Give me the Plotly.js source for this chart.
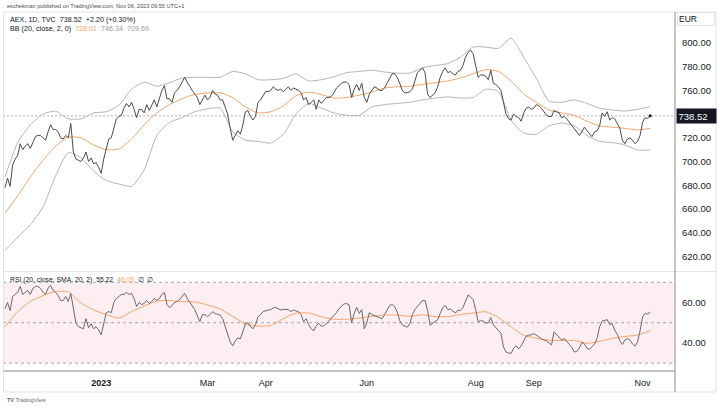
<!DOCTYPE html>
<html><head><meta charset="utf-8">
<script src="https://cdn.plot.ly/plotly-3.0.1.min.js"></script>
<style>html,body{margin:0;padding:0;background:#fff}#chart{width:720px;height:409px}</style>
</head><body><div id="chart"></div>
<script>
// ---- data (AEX daily) ----
const startDate = '2022-11-08';
const holidays = ['2022-12-26','2023-04-07','2023-04-10','2023-05-01'];

const close = [
678,686,679,697,702,705,715,710,713,715,
711,716,721,722,722,720,718,725,731,727,
727,725,720,719,722,720,732,708,702,701,
700,703,708,700,703,698,699,695,690,702,
712,719,720,729,736,738,739,745,749,746,
750,744,737,744,744,741,748,743,747,752,
746,753,760,764,753,753,750,758,760,763,
767,771,767,763,760,757,754,748,752,756,
752,754,760,757,756,752,752,746,740,728,
718,722,726,723,731,742,743,738,735,738,
750,752,755,759,759,760,763,761,760,761,
759,761,763,760,762,761,760,758,752,754,
748,750,752,744,752,749,752,754,754,755,
758,762,764,766,767,767,765,754,761,765,
760,766,754,750,757,760,763,762,760,760,
762,766,770,774,774,771,766,760,758,758,
759,761,768,775,777,779,775,757,754,756,
758,763,771,776,779,775,776,774,773,776,
777,781,788,792,794,791,781,771,773,773,
772,769,777,766,765,763,760,751,740,736,
735,740,738,737,734,741,745,746,744,745,
748,747,745,742,739,738,738,743,742,741,
737,738,736,733,731,728,724,722,725,729,
726,723,721,725,726,730,741,738,742,735,
737,736,732,728,718,715,719,720,718,715,
717,722,733,737,736.32,738.52];

const rsi = [
57,60,56,63,64,65,68,64,65,66,
64,67,68,68,67,65,64,67,68.5,66,
65,63.5,61,61,63,60.5,64.5,58,50,48,
47.5,47,52,47.5,49.5,47,48,46.5,44,50,
55,55.5,55,60,62,63,64,64,65,64,
64.5,62,58,60,59,59.5,61,59.5,60.5,62,
61,62,64,65,59,57.5,58.5,60,60.5,61.5,
63,64.5,62,60,58.5,56.5,53.5,50.5,54,54,
53,54,55.5,54.5,54.2,53.8,52,48,44,40.5,
38.5,41,42.5,42,45.5,49.5,50,48,47,49,
53,54,55.5,56,56.3,56.5,57.3,57.5,57,56.3,
56.6,56.5,56.5,55.5,56.3,55.8,55.5,54,50.5,52,
49,47,46,48.5,49.7,48.2,48.5,49.5,50.8,52,
53.5,55,57,58.3,59.3,59.5,58.8,50,54.6,57.6,
54.6,56.5,47,50,55,54,53.5,53.2,52.8,52,
54,56.3,58.5,59,58,55.3,51,49,48.3,47.8,
49.5,54,56.5,58,59.8,61,61,56,48.8,49.6,
50.5,51.5,54.5,57.5,58.5,56.5,56.8,55.6,54.8,56.2,
56,57.5,60.8,63.7,62.8,61.5,56.5,50.5,51,50.8,
49.8,50,52.5,49,47.5,46.2,44.8,38,35.5,35,
34.8,37.3,38.6,37,38.5,41,43.3,43.8,44,44.6,
44,43,42,41.6,41,40,39,45.5,44.2,42.5,
41.4,42.2,41,39.3,37.8,35.5,35.8,37.5,40.3,39.5,
37.3,36.8,38.1,39.5,42.2,48,50.8,51,51.5,49,
49.6,46.2,44.3,41,39.2,41.4,42.1,41.4,39.5,38.4,
40.5,46,53,54.6,54.3,55.22];

// smoother lines, read every 5th trading day
const bandStep = 5;
const bbBasis = [656.5,671,687,701,713,720.5,720,714,710,710.5,719,731,741,748,753,756.6,757.8,758,754,746,741,742,747,755.5,758.6,756.5,753.5,754,756,758.5,762,763,763.5,765,766.5,768,770.5,774,777.5,776,768,757,750,743.5,741,739,734,730,729,728,726.6,728.01];
const bbUpper = [687,716,731,740,742.5,736,736,741,742,747.5,761,767,763.5,766.5,770.5,771,771,771,776,774,769,769,770,774,768,769,771.5,775,776,777,775.5,774.6,774.6,779,781,782.6,788,796.6,796.5,795.5,804,788,770,751,750,752,749,745,743.5,742.6,744,746.34];
const bbLower = [625,636,646.6,661.6,688,707.5,703,692,684,681,679,693,722,733,737,742,744.5,745,725,718,717,715.6,723,740,749,745,741,739,739,746,748,749,750,752,753.5,754.5,753.6,754,761,759,735,724,723,730,732.5,730,722,717,716,714,709.7,709.69];
const rsiMa = [48,55.5,60.5,63.4,65.5,65.2,59.8,56.3,54,52.3,55.5,58.3,60.7,61,60.4,60.3,58.8,56.8,53.1,49.4,48.3,48.6,52,54.7,54.8,52.9,51.7,51.7,52.3,53.2,53.8,53.8,53.2,53.9,53,53,54,54.8,55.4,52.6,48,43.8,42.3,41.3,41.2,41.2,39.8,40.8,42.2,43.2,43.9,46.05];

const monthTickDates = ['2023-01-02','2023-03-01','2023-04-03','2023-06-01','2023-08-01','2023-09-01','2023-11-01'];
const monthTickLabels = ['<b>2023</b>','Mar','Apr','Jun','Aug','Sep','Nov'];
const priceTicks = [620,640,660,680,700,720,760,780,800];
const rsiTicks = [40,60];
const rsiLevels = [70,50,30];

// ---- build trading-day calendar ----
const dates = [];
let d = new Date(startDate + 'T00:00:00Z');
while (dates.length < close.length) {
  const s = d.toISOString().slice(0,10);
  const w = d.getUTCDay();
  if (w !== 0 && w !== 6 && !holidays.includes(s)) dates.push(s);
  d.setUTCDate(d.getUTCDate() + 1);
}
const bandDates = bbBasis.map((_, k) => dates[k * bandStep]);
const last = close.length - 1;

const FONT = 'Liberation Sans, Arial, sans-serif';
const ORANGE = '#f6a468';
const W = 720, H = 409;
const px = x => x / W;
const py = y => 1 - y / H;

const traces = [
  {x: bandDates, y: bbUpper, mode:'lines', line:{color:'#b5b5b5', width:1, shape:'spline', smoothing:0.6}, xaxis:'x', yaxis:'y', hoverinfo:'skip'},
  {x: bandDates, y: bbLower, mode:'lines', line:{color:'#b5b5b5', width:1, shape:'spline', smoothing:0.6}, xaxis:'x', yaxis:'y', hoverinfo:'skip'},
  {x: bandDates, y: bbBasis, mode:'lines', line:{color:ORANGE, width:1, shape:'spline', smoothing:0.6}, xaxis:'x', yaxis:'y', hoverinfo:'skip'},
  {x: dates, y: close, mode:'lines', line:{color:'#4a4a4a', width:1}, xaxis:'x', yaxis:'y'},
  {x: [dates[last]], y: [close[last]], mode:'markers', marker:{color:'#131722', size:3}, xaxis:'x', yaxis:'y'},
  {x: bandDates, y: rsiMa, mode:'lines', line:{color:ORANGE, width:1, shape:'spline', smoothing:0.6}, xaxis:'x', yaxis:'y2'},
  {x: dates, y: rsi, mode:'lines', line:{color:'#6a6a6a', width:1}, xaxis:'x', yaxis:'y2'}
];

const shapes = [
  {type:'rect', xref:'paper', yref:'y2', x0:px(3), x1:px(675), y0:30, y1:70, fillcolor:'#fdeef2', line:{width:0}, layer:'below'},
  ...rsiLevels.map(v => ({type:'line', xref:'paper', yref:'y2', x0:px(3), x1:px(675), y0:v, y1:v, line:{color:'#a5a5a5', width:1, dash:'3px,3px'}, layer:'below'})),
  {type:'line', xref:'paper', yref:'y', x0:px(3), x1:px(675), y0:close[last], y1:close[last], line:{color:'#b0b0b0', width:1, dash:'2px,2px'}, layer:'below'},
  {type:'rect', xref:'paper', yref:'paper', x0:px(3.5), x1:px(716), y0:py(392), y1:py(12), line:{color:'#e0e3eb', width:1}},
  {type:'line', xref:'paper', yref:'paper', x0:px(3.5), x1:px(716), y0:py(271.5), y1:py(271.5), line:{color:'#e0e3eb', width:1}},
  {type:'line', xref:'paper', yref:'paper', x0:px(3.5), x1:px(675), y0:py(371), y1:py(371), line:{color:'#8c8c8c', width:1}},
  {type:'line', xref:'paper', yref:'paper', x0:px(675), x1:px(675), y0:py(392), y1:py(12), line:{color:'#8c8c8c', width:1}}
];

const ann = (o) => Object.assign({xref:'paper', yref:'paper', showarrow:false, xanchor:'left', yanchor:'middle', font:{family:FONT, size:7.2, color:'#131722'}}, o);
const annotations = [
  ann({x:px(5), y:py(6), text:'eschekman published on TradingView.com, Nov 06, 2023 09:55 UTC+1', font:{family:FONT, size:5.6, color:'#4a4a4a'}}),
  ann({x:px(8), y:py(19.5), text:'AEX, 1D, TVC  738.52  +2.20 (+0.30%)'}),
  ann({x:px(8), y:py(28.5), text:'BB (20, close, 2, 0)  <span style="color:' + ORANGE + '">728.01</span>  <span style="color:#9a9a9a">746.34  709.69</span>'}),
  ann({x:px(8), y:py(279.5), text:'RSI (20, close, SMA, 20, 2)  55.22  <span style="color:' + ORANGE + '">46.05</span>  ∅  ∅', font:{family:FONT, size:6.8, color:'#131722'}}),
  ann({x:px(677), y:py(19), text:'EUR', width:34, align:'left', bordercolor:'#e0e3eb', borderwidth:1, borderpad:1, font:{family:FONT, size:8.5, color:'#131722'}}),
  ann({x:px(676), yref:'y', y:close[last], text:close[last].toFixed(2), width:36, align:'left', bgcolor:'#131722', borderpad:1.5, font:{family:FONT, size:9.5, color:'#ffffff'}}),
  ann({x:px(5), y:py(400), text:'<b>TV</b> TradingView', font:{family:FONT, size:5.5, color:'#6a6a6a'}})
];

const layout = {
  width: W, height: H,
  margin: {l:0, r:0, t:0, b:0},
  paper_bgcolor: '#ffffff', plot_bgcolor: 'rgba(0,0,0,0)',
  showlegend: false,
  font: {family: FONT, color:'#131722'},
  xaxis: {type:'category', categoryorder:'array', categoryarray:dates, range:[-0.8, 264.8], domain:[px(3), px(675)], anchor:'y2',
          tickmode:'array', tickvals:monthTickDates, ticktext:monthTickLabels, showgrid:false, zeroline:false, showline:false,
          ticks:'outside', ticklen:3, tickcolor:'rgba(0,0,0,0)', tickfont:{family:FONT, size:9, color:'#131722'}, automargin:false, fixedrange:true},
  yaxis: {domain:[py(271.5), py(12)], range:[607.17, 826.16], side:'right', anchor:'x', tickmode:'array', tickvals:priceTicks,
          ticktext:priceTicks.map(v=>v.toFixed(2)), showgrid:false, zeroline:false, showline:false, ticks:'',
          ticklabelstandoff:6, tickfont:{family:FONT, size:9.5, color:'#131722'}, automargin:false, fixedrange:true},
  yaxis2: {domain:[py(371), py(271.5)], range:[26.09, 75.35], side:'right', anchor:'x', tickmode:'array', tickvals:rsiTicks,
          ticktext:rsiTicks.map(v=>v.toFixed(2)), showgrid:false, zeroline:false, showline:false, ticks:'',
          ticklabelstandoff:6, tickfont:{family:FONT, size:9.5, color:'#131722'}, automargin:false, fixedrange:true},
  shapes: shapes,
  annotations: annotations
};

Plotly.newPlot('chart', traces, layout, {displayModeBar:false, staticPlot:true});
</script></body></html>
